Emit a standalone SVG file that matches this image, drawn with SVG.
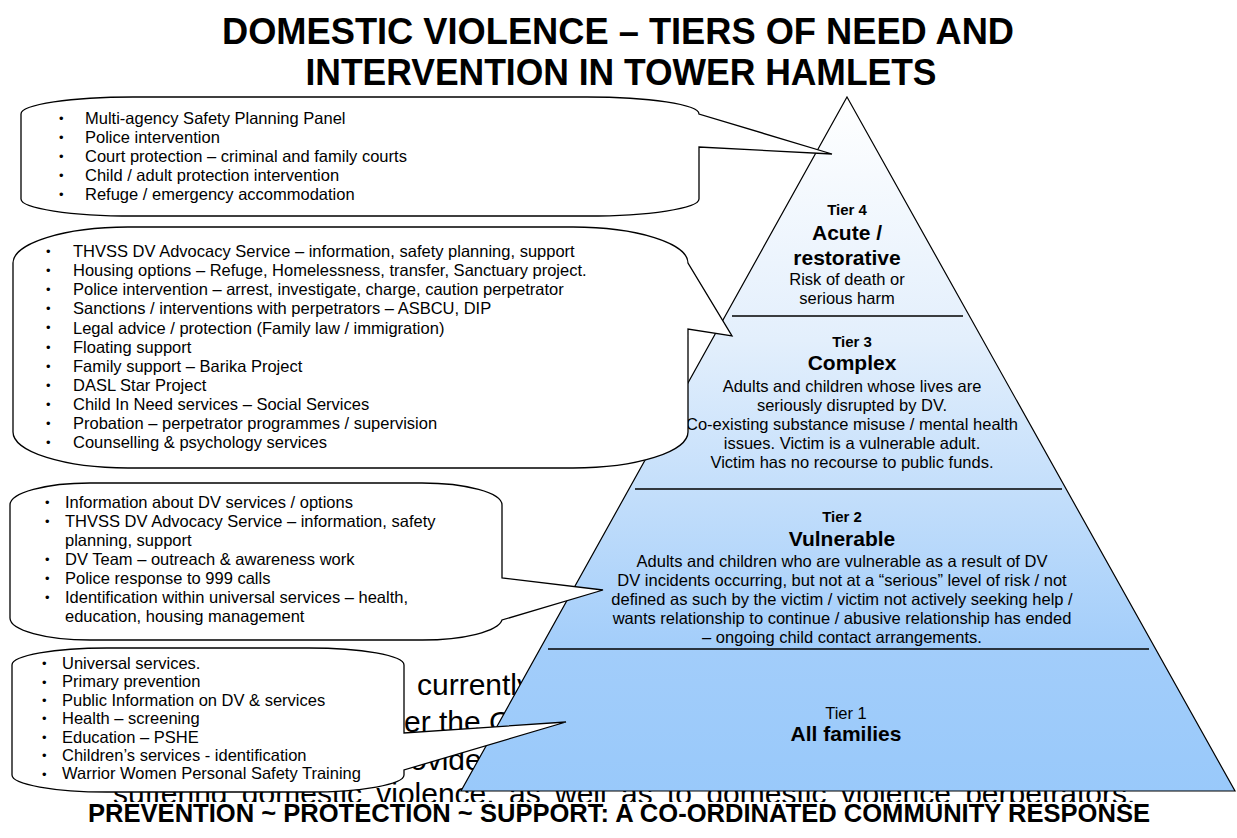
<svg xmlns="http://www.w3.org/2000/svg" width="1237" height="838" viewBox="0 0 1237 838">
<defs>
<linearGradient id="pyr" gradientUnits="userSpaceOnUse" x1="0" y1="97" x2="0" y2="791">
<stop offset="0" stop-color="#ffffff"/>
<stop offset="0.35" stop-color="#e3effc"/>
<stop offset="0.8" stop-color="#a2cdfa"/>
<stop offset="1" stop-color="#99c9fa"/>
</linearGradient>
</defs>
<style>
text{font-family:"Liberation Sans",Arial,Helvetica,sans-serif;fill:#000}
.c{fill:#fff;stroke:#000;stroke-width:1.3;stroke-linejoin:miter}
.bt{font-size:16.5px}
.bu{font-size:13px}
.h{font-size:21px;font-weight:bold}
.tl{font-size:15px;font-weight:bold}
.m{text-anchor:middle}
.bg{font-size:30px}
.dv{stroke:#000;stroke-width:1.3}
.ti{font-size:36px;font-weight:bold;text-anchor:middle}
</style>
<rect width="1237" height="838" fill="#fff"/>

<g id="background-text">
<text class="bg" x="417" y="695">currently</text>
<text class="bg" x="404" y="732">er the C</text>
<text class="bg" x="410" y="770">ovide</text>
<text class="bg" x="113" y="804" word-spacing="6">suffering domestic violence, as well as to domestic violence perpetrators.</text>
</g>

<g id="pyramid">
<polygon points="847,97 1235,791 461,791" fill="url(#pyr)" stroke="#000" stroke-width="1.2"/>
<line class="dv" x1="732" y1="316" x2="963" y2="316"/>
<line class="dv" x1="635" y1="489" x2="1062" y2="489"/>
<line class="dv" x1="548" y1="649" x2="1149" y2="649"/>
</g>

<g id="tier4">
<text class="tl m" x="847" y="215">Tier 4</text>
<text class="h m" x="847" y="240">Acute /</text>
<text class="h m" x="847" y="265">restorative</text>
<text class="bt m" x="847" y="285">Risk of death or</text>
<text class="bt m" x="847" y="304">serious harm</text>
</g>

<g id="tier3">
<text class="tl m" x="852" y="347">Tier 3</text>
<text class="h m" x="852" y="370">Complex</text>
<text class="bt m" x="852" y="391.5">Adults and children whose lives are</text>
<text class="bt m" x="852" y="410.5">seriously disrupted by DV.</text>
<text class="bt m" x="852" y="429.5">Co-existing substance misuse / mental health</text>
<text class="bt m" x="852" y="448.5">issues. Victim is a vulnerable adult.</text>
<text class="bt m" x="852" y="468">Victim has no recourse to public funds.</text>
</g>

<g id="tier2">
<text class="tl m" x="842" y="522">Tier 2</text>
<text class="h m" x="842" y="545.5">Vulnerable</text>
<text class="bt m" x="842" y="567">Adults and children who are vulnerable as a result of DV</text>
<text class="bt m" x="842" y="586">DV incidents occurring, but not at a “serious” level of risk / not</text>
<text class="bt m" x="842" y="605">defined as such by the victim / victim not actively seeking help /</text>
<text class="bt m" x="842" y="624">wants relationship to continue / abusive relationship has ended</text>
<text class="bt m" x="842" y="643">– ongoing child contact arrangements.</text>
</g>

<g id="tier1">
<text class="bt m" x="846" y="719">Tier 1</text>
<text class="h m" x="846" y="741">All families</text>
</g>

<g id="connectors"></g>

<g id="callout1">
<path class="c" d="M21 114 A112 17 0 0 1 133 97 L587 97 A112 17 0 0 1 699 114 L832 154 L699 147 L699 199 A112 17 0 0 1 587 216 L133 216 A112 17 0 0 1 21 199 Z"/>
<g class="bu"><text x="59" y="123">•</text><text x="59" y="142">•</text><text x="59" y="161">•</text><text x="59" y="180">•</text><text x="59" y="199">•</text></g>
<text class="bt" x="85" y="124">Multi-agency Safety Planning Panel</text>
<text class="bt" x="85" y="143">Police intervention</text>
<text class="bt" x="85" y="162">Court protection – criminal and family courts</text>
<text class="bt" x="85" y="181">Child / adult  protection intervention</text>
<text class="bt" x="85" y="200">Refuge / emergency accommodation</text>
</g>

<g id="callout2">
<path class="c" d="M13 263 A115 36 0 0 1 128 227 L573 227 A115 36 0 0 1 688 263 L732 336 L688 329 L688 432 A115 36 0 0 1 573 468 L128 468 A115 36 0 0 1 13 432 Z"/>
<g class="bu"><text x="46" y="256">•</text><text x="46" y="275">•</text><text x="46" y="294">•</text><text x="46" y="313">•</text><text x="46" y="332">•</text><text x="46" y="351.5">•</text><text x="46" y="370.5">•</text><text x="46" y="389.5">•</text><text x="46" y="409">•</text><text x="46" y="428">•</text><text x="46" y="447">•</text></g>
<text class="bt" x="73" y="257">THVSS DV Advocacy Service – information, safety planning, support</text>
<text class="bt" x="73" y="276">Housing options – Refuge, Homelessness, transfer, Sanctuary project.</text>
<text class="bt" x="73" y="295">Police intervention – arrest, investigate, charge, caution perpetrator</text>
<text class="bt" x="73" y="314">Sanctions / interventions with perpetrators – ASBCU, DIP</text>
<text class="bt" x="73" y="333.5">Legal advice / protection (Family law / immigration)</text>
<text class="bt" x="73" y="352.5">Floating support</text>
<text class="bt" x="73" y="371.5">Family support – Barika Project</text>
<text class="bt" x="73" y="390.5">DASL Star Project</text>
<text class="bt" x="73" y="410">Child In Need services – Social Services</text>
<text class="bt" x="73" y="429">Probation – perpetrator programmes / supervision</text>
<text class="bt" x="73" y="448">Counselling &amp; psychology services</text>
</g>

<g id="callout3">
<path class="c" d="M10 505 A80 22 0 0 1 90 483 L422 483 A80 22 0 0 1 502 505 L502 578 L603 590 L502 620 A80 22 0 0 1 422 640 L90 640 A80 22 0 0 1 10 618 Z"/>
<g class="bu"><text x="45" y="507">•</text><text x="45" y="526">•</text><text x="45" y="564">•</text><text x="45" y="583">•</text><text x="45" y="602">•</text></g>
<text class="bt" x="65" y="508">Information about DV services / options</text>
<text class="bt" x="65" y="527">THVSS DV Advocacy Service – information, safety</text>
<text class="bt" x="65" y="546">planning, support</text>
<text class="bt" x="65" y="565">DV Team – outreach &amp; awareness work</text>
<text class="bt" x="65" y="584">Police response to 999 calls</text>
<text class="bt" x="65" y="603">Identification within universal services – health,</text>
<text class="bt" x="65" y="622">education, housing management</text>
</g>

<g id="callout4">
<path class="c" d="M12 665 A95 17 0 0 1 107 648 L309 648 A95 17 0 0 1 404 665 L404 733 L566 722 L404 770 L404 775 A95 17 0 0 1 309 792 L107 792 A95 17 0 0 1 12 775 Z"/>
<g class="bu"><text x="42" y="668">•</text><text x="42" y="686.5">•</text><text x="42" y="705">•</text><text x="42" y="723">•</text><text x="42" y="741.5">•</text><text x="42" y="760">•</text><text x="42" y="778.5">•</text></g>
<text class="bt" x="62" y="669">Universal services.</text>
<text class="bt" x="62" y="687.4">Primary prevention</text>
<text class="bt" x="62" y="705.8">Public Information on DV &amp; services</text>
<text class="bt" x="62" y="724.2">Health – screening</text>
<text class="bt" x="62" y="742.6">Education – PSHE</text>
<text class="bt" x="62" y="761">Children’s services - identification</text>
<text class="bt" x="62" y="779.4">Warrior Women Personal Safety Training</text>
</g>

<rect x="0" y="802" width="1237" height="36" fill="#fff"/>
<g id="footer">
<text x="619" y="822" text-anchor="middle" font-size="25" font-weight="bold" textLength="1062" lengthAdjust="spacingAndGlyphs">PREVENTION ~ PROTECTION ~ SUPPORT: A CO-ORDINATED COMMUNITY RESPONSE</text>
</g>

<g id="title">
<text class="ti" x="618" y="44" textLength="792" lengthAdjust="spacingAndGlyphs">DOMESTIC VIOLENCE – TIERS OF NEED AND</text>
<text class="ti" x="621" y="85" textLength="631" lengthAdjust="spacingAndGlyphs">INTERVENTION IN TOWER HAMLETS</text>
</g>
</svg>
